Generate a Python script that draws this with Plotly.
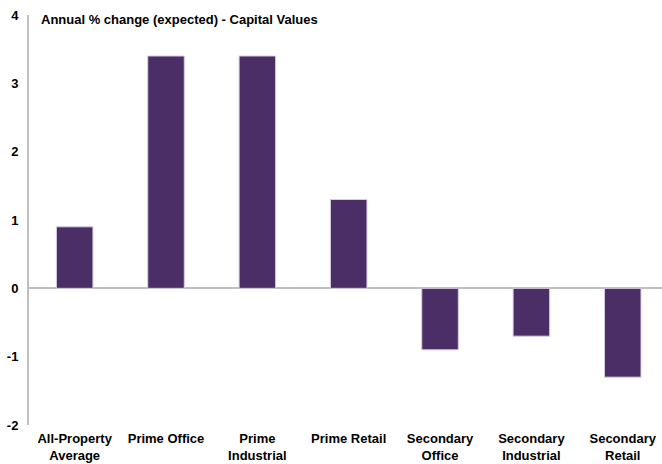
import plotly.graph_objects as go

categories = ["All-Property<br>Average", "Prime Office", "Prime<br>Industrial", "Prime Retail",
              "Secondary<br>Office", "Secondary<br>Industrial", "Secondary<br>Retail"]
values = [0.9, 3.4, 3.4, 1.3, -0.9, -0.7, -1.3]
y_ticks = [-2, -1, 0, 1, 2, 3, 4]
y_tick_labels = ["-2", "-1", "0", "1", "2", "3", "4"]
title_text = "Annual % change (expected) - Capital Values"

FONT = "Liberation Sans, Arial, sans-serif"

fig = go.Figure(go.Bar(
    x=list(range(len(categories))),
    y=values,
    width=0.4,
    marker=dict(color="#4B2E66", line=dict(color="#D6CCE0", width=1)),
))

fig.update_layout(
    width=662, height=464,
    margin=dict(l=29, r=0, t=15, b=39, autoexpand=False),
    paper_bgcolor="white", plot_bgcolor="white",
    showlegend=False,
    font=dict(family=FONT, color="black", size=13),
    xaxis=dict(
        tickmode="array", tickvals=list(range(len(categories))), ticktext=categories,
        range=[-0.5, 6.43], showgrid=False, zeroline=False, showline=False,
        tickfont=dict(family=FONT, size=13, weight="bold"), ticks="",
        automargin=False, ticklabelstandoff=4,
    ),
    yaxis=dict(
        range=[-2, 4], tickmode="array", tickvals=y_ticks, ticktext=y_tick_labels,
        showgrid=False,
        zeroline=True, zerolinecolor="#BFBFBF", zerolinewidth=2,
        showline=True, linecolor="#BFBFBF", linewidth=2,
        tickfont=dict(family=FONT, size=13, weight="bold"), ticks="",
        ticklabelstandoff=6, automargin=False,
    ),
    annotations=[dict(
        text=title_text, xref="paper", yref="paper", x=0.016, y=0.988,
        xanchor="left", yanchor="middle", showarrow=False,
        font=dict(family=FONT, size=13, weight="bold", color="black"),
    )],
)

fig.write_html("out.html", config={"displayModeBar": False},
               post_script="document.body.style.margin='0';")
